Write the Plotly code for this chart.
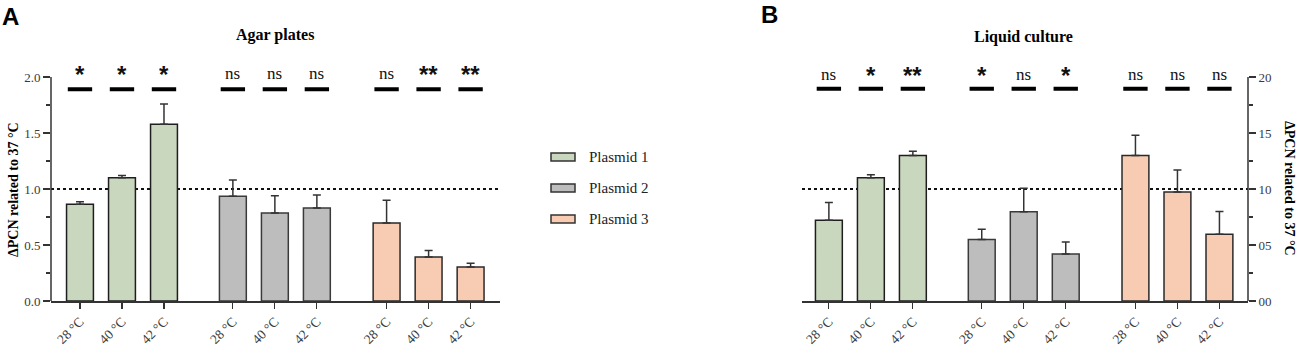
import plotly.graph_objects as go

W, H = 1299, 347
OFF = 0  # body margin removed via post_script


def px(x):
    return (x - OFF) / W


def py(y):
    return 1 - (y - OFF) / H


# ---------------- data ----------------
temps = ["28 °C", "40 °C", "42 °C"]
plasmids = ["Plasmid 1", "Plasmid 2", "Plasmid 3"]
group_pos = [[0, 1, 2], [3.64, 4.64, 5.64], [7.3, 8.3, 9.3]]

agar_vals = [[0.863, 1.10, 1.578], [0.935, 0.786, 0.83], [0.696, 0.393, 0.303]]
agar_err = [[0.024, 0.02, 0.182], [0.145, 0.154, 0.116], [0.204, 0.057, 0.033]]
agar_sig = [["*", "*", "*"], ["ns", "ns", "ns"], ["ns", "**", "**"]]

liq_vals = [[7.22, 11.0, 13.0], [5.5, 7.97, 4.2], [13.0, 9.73, 5.97]]
liq_err = [[1.58, 0.27, 0.36], [0.9, 2.1, 1.07], [1.8, 1.97, 2.03]]
liq_sig = [["ns", "*", "**"], ["*", "ns", "*"], ["ns", "ns", "ns"]]

left_ticks = [0.0, 0.5, 1.0, 1.5, 2.0]
left_ticktext = ["0.0", "0.5", "1.0", "1.5", "2.0"]
left_minor = [0.25, 0.75, 1.25, 1.75]
right_ticks = [0, 5, 10, 15, 20]
right_ticktext = ["00", "05", "10", "15", "20"]
right_minor = [2.5, 7.5, 12.5, 17.5]

colors = ["#c9d7be", "#bdbdbd", "#f7ccb2"]
edge = ["#1e1e1e", "#3a3a3a", "#2a2a2a"]

SERIF = "Liberation Serif"
SANS = "Liberation Sans"

fig = go.Figure()

for panel, (vals, errs, xa, ya) in enumerate(
    [(agar_vals, agar_err, "x", "y"), (liq_vals, liq_err, "x2", "y2")]
):
    for g in range(3):
        fig.add_trace(go.Bar(
            x=group_pos[g], y=vals[g], width=0.64,
            name=plasmids[g], showlegend=False,
            marker=dict(color=colors[g], line=dict(color=edge[g], width=1.5)),
            error_y=dict(type="data", symmetric=False, array=errs[g],
                         arrayminus=[0] * 3, color="#333333",
                         thickness=1.5, width=4),
            xaxis=xa, yaxis=ya,
        ))

all_pos = [p for grp in group_pos for p in grp]
all_text = temps * 3

ydom = [py(301), py(54.6)]
L_RANGE = [0, 2.2]
R_RANGE = [0, 22]

axis_font = dict(family=SERIF, size=13, color="#3a3a3a")
xtick_font = dict(family=SERIF, size=13.5, color="#3a3a3a")
xcommon = dict(
    showline=True, linecolor="#333333", linewidth=1.5,
    ticks="outside", ticklen=6, tickcolor="#333333", tickwidth=1.2,
    tickvals=all_pos, ticktext=all_text, tickangle=-45,
    tickfont=xtick_font, showgrid=False, zeroline=False, fixedrange=True,
    automargin=False,
)
ycommon = dict(
    domain=ydom, showline=False, ticks="outside", ticklen=7, tickcolor="#333333",
    tickwidth=1.2, tickfont=axis_font, showgrid=False, zeroline=False,
    automargin=False, fixedrange=True,
)
fig.update_layout(
    width=W, height=H,
    margin=dict(l=0, r=0, t=0, b=0, pad=0, autoexpand=False),
    paper_bgcolor="white", plot_bgcolor="white",
    barmode="overlay", showlegend=False,
    xaxis=dict(domain=[px(51), px(500)], range=[-0.69, 10.0], anchor="y", **xcommon),
    xaxis2=dict(domain=[px(802), px(1248)], range=[-0.64, 9.98], anchor="y2", **xcommon),
    yaxis=dict(range=L_RANGE, anchor="x",
               tickvals=left_ticks, ticktext=left_ticktext,
               minor=dict(tickvals=left_minor, ticks="outside", ticklen=4,
                          tickcolor="#333333", tickwidth=1.2, showgrid=False),
               **ycommon),
    yaxis2=dict(range=R_RANGE, anchor="x2", side="right",
                tickvals=right_ticks, ticktext=right_ticktext,
                minor=dict(tickvals=right_minor, ticks="outside", ticklen=4,
                           tickcolor="#333333", tickwidth=1.2, showgrid=False),
                **ycommon),
)

shapes = []
# y axis lines (only up to top tick)
shapes.append(dict(type="line", xref="x domain", yref="y domain", x0=0, x1=0,
                   y0=0, y1=left_ticks[-1] / L_RANGE[1],
                   line=dict(color="#333333", width=1.5)))
shapes.append(dict(type="line", xref="x2 domain", yref="y2 domain", x0=1, x1=1,
                   y0=0, y1=right_ticks[-1] / R_RANGE[1],
                   line=dict(color="#333333", width=1.5)))
# reference dotted lines
shapes.append(dict(type="line", xref="x domain", yref="y", x0=0, x1=1, y0=1.0, y1=1.0,
                   layer="below", line=dict(color="#111111", width=2, dash="dot")))
shapes.append(dict(type="line", xref="x2 domain", yref="y2", x0=0, x1=1, y0=10, y1=10,
                   layer="below", line=dict(color="#111111", width=2, dash="dot")))

annotations = []
# significance markers
for sig, xa, ya, yline, ytext_ns, ytext_star in [
    (agar_sig, "x", "y", 1.89, 2.03, 2.02),
    (liq_sig, "x2", "y2", 18.95, 20.2, 20.1),
]:
    for g in range(3):
        for i in range(3):
            p = group_pos[g][i]
            shapes.append(dict(type="line", xref=xa, yref=ya, x0=p - 0.29, x1=p + 0.29,
                               y0=yline, y1=yline, line=dict(color="black", width=4)))
            s = sig[g][i]
            if s == "ns":
                annotations.append(dict(x=p, y=ytext_ns, xref=xa, yref=ya, text="ns",
                                        showarrow=False, xanchor="center", yanchor="middle",
                                        font=dict(family=SERIF, size=17, color="#111111")))
            else:
                annotations.append(dict(x=p, y=ytext_star, xref=xa, yref=ya,
                                        text="<b>" + s + "</b>",
                                        showarrow=False, xanchor="center", yanchor="middle",
                                        font=dict(family=SANS, size=24, color="#111111")))

# legend (custom)
leg_y = [157, 188, 219]
for g in range(3):
    shapes.append(dict(type="rect", xref="paper", yref="paper",
                       x0=px(551), x1=px(575),
                       y0=py(leg_y[g] + 4), y1=py(leg_y[g] - 4),
                       fillcolor=colors[g], line=dict(color="#333333", width=1.5)))
    annotations.append(dict(x=px(587), y=py(leg_y[g]), xref="paper", yref="paper",
                            text=plasmids[g], showarrow=False, xanchor="left",
                            yanchor="middle",
                            font=dict(family=SERIF, size=15, color="#222222")))

# titles
annotations.append(dict(x=px(275), y=py(35), xref="paper", yref="paper",
                        text="<b>Agar plates</b>", showarrow=False,
                        xanchor="center", yanchor="middle",
                        font=dict(family=SERIF, size=16, color="black")))
annotations.append(dict(x=px(1023), y=py(37), xref="paper", yref="paper",
                        text="<b>Liquid culture</b>", showarrow=False,
                        xanchor="center", yanchor="middle",
                        font=dict(family=SERIF, size=16, color="black")))
# panel letters
annotations.append(dict(x=px(11), y=py(17), xref="paper", yref="paper",
                        text="<b>A</b>", showarrow=False,
                        xanchor="center", yanchor="middle",
                        font=dict(family=SANS, size=24, color="black")))
annotations.append(dict(x=px(769), y=py(15), xref="paper", yref="paper",
                        text="<b>B</b>", showarrow=False,
                        xanchor="center", yanchor="middle",
                        font=dict(family=SANS, size=24, color="black")))
# axis titles
ytitle = "<b>ΔPCN related to 37 °C</b>"
annotations.append(dict(x=px(14), y=py(190), xref="paper", yref="paper",
                        text=ytitle, showarrow=False, textangle=-90,
                        xanchor="center", yanchor="middle",
                        font=dict(family=SERIF, size=14, color="black")))
annotations.append(dict(x=px(1289), y=py(188), xref="paper", yref="paper",
                        text=ytitle, showarrow=False, textangle=90,
                        xanchor="center", yanchor="middle",
                        font=dict(family=SERIF, size=14, color="black")))

fig.update_layout(shapes=shapes, annotations=annotations)
fig.write_html(
    "out.html",
    config={"displayModeBar": False, "staticPlot": True},
    post_script="document.body.style.margin='0px';document.body.style.overflow='hidden';",
)
